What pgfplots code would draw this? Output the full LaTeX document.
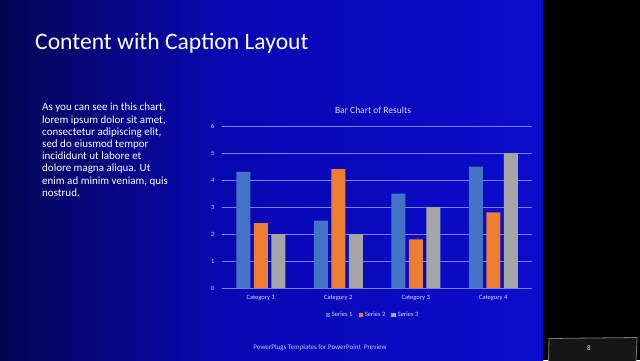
\documentclass[border=0pt]{standalone}
\usepackage{fontspec}
\setmainfont{Carlito}
\usepackage{pgfplots}
\pgfplotsset{compat=1.18}
\definecolor{bgA}{RGB}{4,4,84}
\definecolor{bgB}{RGB}{8,8,178}
\definecolor{bgC}{RGB}{12,12,205}
\definecolor{sA}{RGB}{68,114,196}
\definecolor{sB}{RGB}{237,125,49}
\definecolor{sC}{RGB}{165,165,165}
\definecolor{gridc}{RGB}{125,125,235}
\definecolor{tickc}{RGB}{215,215,240}
\definecolor{footc}{RGB}{190,190,250}
\begin{document}
\begin{tikzpicture}[x=1pt,y=1pt]
\useasboundingbox (0,0) rectangle (640,360);
\shade[left color=bgA, right color=bgB] (0,0) rectangle (220.5,360);
\shade[left color=bgB, right color=bgC] (220,0) rectangle (543,360);
\fill[black] (543,0) rectangle (640,360);
% title
\node[anchor=base west, text=white, font=\fontsize{23.6}{28}\selectfont, inner sep=0] at (35,311) {Content with Caption Layout};
% caption text
\node[anchor=north west, text=white, align=left, inner sep=0, font=\fontsize{11}{12.2}\selectfont] at (42,257) {As you can see in this chart,\\lorem ipsum dolor sit amet,\\consectetur adipiscing elit,\\sed do eiusmod tempor\\incididunt ut labore et\\dolore magna aliqua. Ut\\enim ad minim veniam, quis\\nostrud.};
% chart title
\node[text=tickc, font=\fontsize{9.5}{11}\selectfont] at (373,250) {Bar Chart of Results};
\begin{axis}[
  at={(222pt,72pt)}, anchor=south west,
  width=310pt, height=162pt, scale only axis,
  ybar=3.5pt, bar width=14pt,
  xmin=0.5, xmax=4.5, ymin=0, ymax=6,
  xtick={1,2,3,4},
  xticklabels={Category 1,Category 2,Category 3,Category 4},
  ytick={0,1,2,3,4,5,6},
  ymajorgrids, grid style={gridc, line width=0.7pt},
  axis line style={draw=none},
  major tick length=0pt,
  tick label style={font=\fontsize{6.5}{7}\selectfont, text=tickc},
  yticklabel style={xshift=-4pt},
  xticklabel style={yshift=-4pt},
  /pgf/number format/assume math mode=true,
  legend columns=3,
  legend style={at={(0.487,-0.167)}, anchor=center, draw=none, fill=none,
    text=tickc, font=\fontsize{6.5}{7}\selectfont,
    /tikz/every even column/.append style={column sep=4pt}},
  legend image code/.code={\fill[#1] (0pt,-2.2pt) rectangle (4.4pt,2.2pt);},
]
\addplot[fill=sA, draw=none] coordinates {(1,4.3) (2,2.5) (3,3.5) (4,4.5)};
\addplot[fill=sB, draw=none] coordinates {(1,2.4) (2,4.4) (3,1.8) (4,2.8)};
\addplot[fill=sC, draw=none] coordinates {(1,2) (2,2) (3,3) (4,5)};
\legend{Series 1,Series 2,Series 3}
\end{axis}
% footer
\node[text=footc, font=\fontsize{7}{8}\selectfont] at (320,12) {PowerPlugs Templates for PowerPoint\ \ Preview};
% page number box
\filldraw[draw={rgb,255:red,120;green,120;blue,120}, fill={rgb,255:red,22;green,22;blue,22}, line width=0.8pt] (548.5,-2) -- (549,21.5) -- (637,22.5) -- (636,-2) -- cycle;
\node[text=white!85!gray, font=\fontsize{7}{8}\selectfont] at (589,12) {8};
\end{tikzpicture}
\end{document}
